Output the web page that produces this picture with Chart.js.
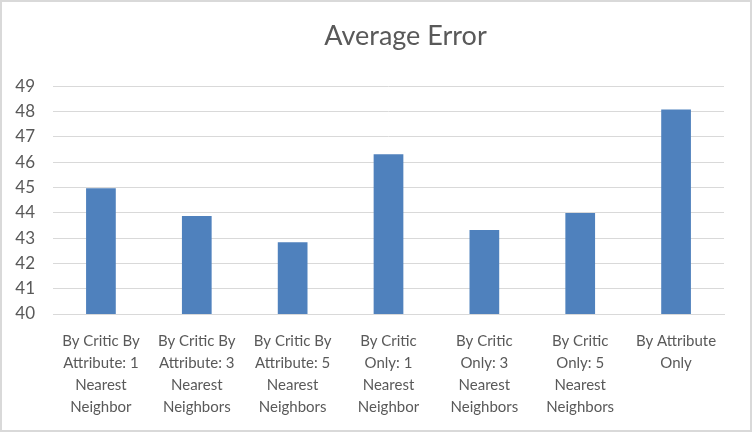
<!DOCTYPE html>
<html>
<head>
<meta charset="utf-8">
<script src="https://cdn.jsdelivr.net/npm/chart.js@4"></script>
<style>
    html, body { margin: 0; padding: 0; background: #fff; }
    #frame {
        width: 752px; height: 432px; box-sizing: border-box;
        border: 2px solid #d9d9d9; background: #fff;
    }
</style>
</head>
<body>
<div id="frame"><canvas id="myChart" width="748" height="428"></canvas></div>
<script>
// category labels, one line per array item
var categories = [
    ["By Critic By", "Attribute: 1", "Nearest", "Neighbor"],
    ["By Critic By", "Attribute: 3", "Nearest", "Neighbors"],
    ["By Critic By", "Attribute: 5", "Nearest", "Neighbors"],
    ["By Critic", "Only: 1", "Nearest", "Neighbor"],
    ["By Critic", "Only: 3", "Nearest", "Neighbors"],
    ["By Critic", "Only: 5", "Nearest", "Neighbors"],
    ["By Attribute", "Only"]
]
var avgError = [44.97, 43.88, 42.84, 46.32, 43.32, 43.99, 48.09]
var yMin = 40
var yMax = 49

var textColor = '#595959'
var gridColor = '#d9d9d9'
var fontName = 'Lato, "Open Sans", sans-serif'

// shift the title a bit right, like the original
var titleShift = {
    id: 'titleShift',
    afterLayout(chart) {
        if (chart.titleBlock) chart.titleBlock.left += 72
    }
}

window.onload = main

function main() {
    var ctx = document.getElementById('myChart').getContext('2d')
    new Chart(ctx, {
        type: 'bar',
        data: {
            labels: categories,
            datasets: [{
                label: 'Average Error',
                data: avgError,
                backgroundColor: '#4f81bd',
                borderWidth: 0,
                categoryPercentage: 0.62,
                barPercentage: 0.5
            }]
        },
        options: {
            responsive: false,
            animation: false,
            layout: { padding: { left: 13, right: 26, top: 14, bottom: 12 } },
            plugins: {
                legend: { display: false },
                tooltip: { enabled: false },
                title: {
                    display: true,
                    text: 'Average Error',
                    color: textColor,
                    font: { family: fontName, size: 27, weight: 'normal' },
                    padding: { top: 4, bottom: 34 }
                }
            },
            scales: {
                x: {
                    grid: { display: false, drawTicks: false },
                    border: { display: true, color: gridColor },
                    ticks: {
                        color: textColor,
                        font: { family: fontName, size: 15, lineHeight: 1.47 },
                        maxRotation: 0,
                        autoSkip: false,
                        padding: 16
                    },
                    afterFit: function(scale) {
                        scale.paddingLeft = 0
                        scale.paddingRight = 0
                        scale.height = 104
                    }
                },
                y: {
                    min: yMin,
                    max: yMax,
                    border: { display: false },
                    grid: { color: gridColor, lineWidth: 1, drawTicks: false },
                    ticks: {
                        stepSize: 1,
                        color: textColor,
                        font: { family: fontName, size: 17 },
                        padding: 18
                    },
                    afterFit: function(scale) {
                        scale.width = 38
                    }
                }
            }
        },
        plugins: [titleShift]
    })
}
</script>
</body>
</html>
